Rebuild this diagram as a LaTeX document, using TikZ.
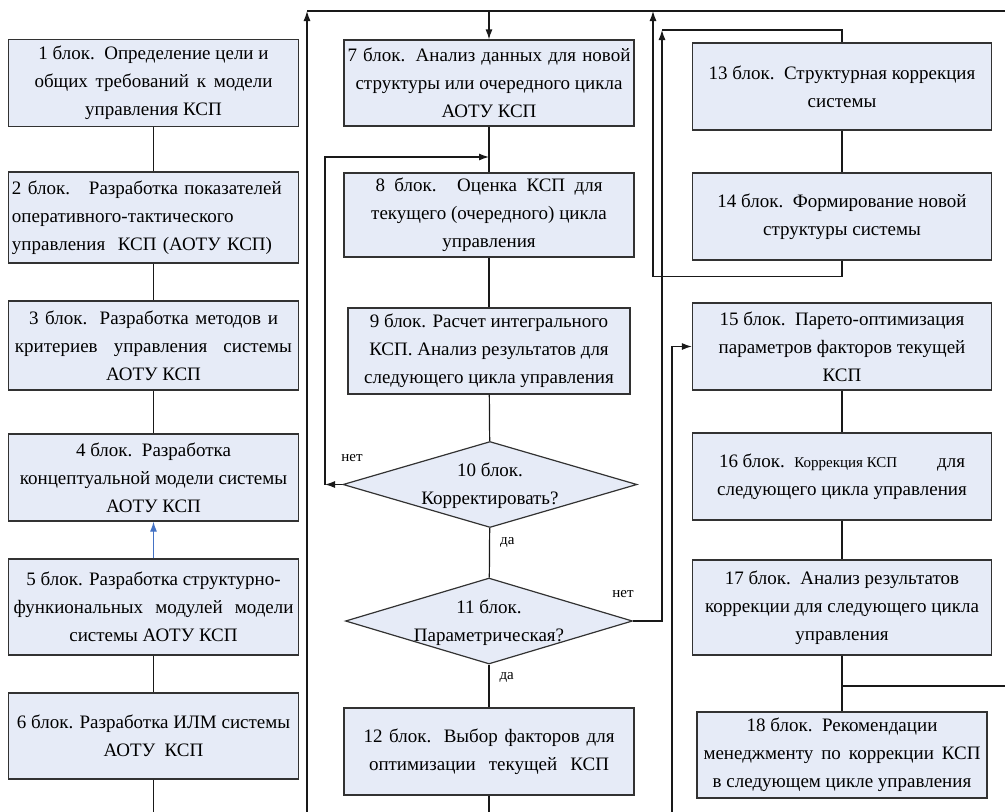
\documentclass[tikz,border=0pt]{standalone}
\usepackage{fontspec}
\setmainfont{Liberation Serif}
\newfontfamily\boxfont{Liberation Serif}
\usetikzlibrary{shapes.geometric,arrows.meta}
\definecolor{blockfill}{RGB}{230,235,247}
\definecolor{blockline}{RGB}{50,50,50}
\definecolor{upblue}{RGB}{68,114,196}
\newcommand{\jline}[2]{\makebox[#1pt][s]{#2}}
\tikzset{
  block/.style={draw=blockline, fill=blockfill, line width=1.2pt, minimum width=290pt,
    minimum height=87pt, align=center, inner sep=3pt, font=\boxfont\fontsize{19}{28}\selectfont},
  widebox/.style={minimum width=299pt},
  decision/.style={draw=blockline, fill=blockfill, line width=1.2pt, diamond,
    minimum width=294pt, minimum height=86pt, inner sep=0pt},
  dtext/.style={align=center, inner sep=0pt, font=\boxfont\fontsize{19}{28}\selectfont},
  link/.style={line width=1.2pt, draw=black!90},
  arr/.style={link, -{Latex[length=10pt,width=7pt]}},
  tag/.style={inner sep=1pt, font=\boxfont\fontsize{15}{18}\selectfont}
}
\begin{document}
\begin{tikzpicture}[x=1pt,y=-1pt]
  \useasboundingbox (0,0) rectangle (1005,812);
  % left column
  \node[block] (b1) at (153.5,83) {1 блок.\ \ Определение цели и\\ \jline{238}{общих требований к модели}\\ управления КСП};
  \node[block, minimum height=91pt, text width=283pt, align=left] (b2) at (153.5,217.5) {2 блок.\ \ \ Разработка показателей\\ оперативного-тактического\\ управления\ \ КСП (АОТУ КСП)};
  \node[block, minimum height=89pt] (b3) at (153.5,345.5) {\jline{249}{3 блок. Разработка методов и}\\ \jline{277}{критериев управления системы}\\ АОТУ КСП};
  \node[block] (b4) at (153.5,477.5) {4 блок.\ \ Разработка\\ концептуальной модели системы\\ АОТУ КСП};
  \node[block, minimum height=96pt] (b5) at (153.5,607) {5 блок. Разработка структурно-\\ \jline{280}{функиональных модулей модели}\\ системы АОТУ КСП};
  \node[block, minimum height=86pt] (b6) at (153.5,736) {6 блок. Разработка ИЛМ системы\\ АОТУ\ \ КСП};
  % middle column
  \node[block, minimum height=86pt] (b7) at (489,83) {\jline{283}{7 блок. Анализ данных для новой}\\ структуры или очередного цикла\\ АОТУ КСП};
  \node[block, minimum height=84pt] (b8) at (489,215) {\jline{227}{8 блок. Оценка КСП для}\\ текущего (очередного) цикла\\ управления};
  \node[block, minimum height=86pt, minimum width=282pt] (b9) at (489,351) {9 блок. Расчет интегрального\\ КСП. Анализ результатов для\\ следующего цикла управления};
  \node[decision] (d10) at (490,484.5) {};
  \node[dtext] (t10) at (490,486) {10 блок.\\ Корректировать?};
  \node[decision, minimum width=287pt] (d11) at (489,621) {};
  \node[dtext] (t11) at (489,623) {11 блок.\\ Параметрическая?};
  \node[block] (b12) at (489,751.5) {\jline{251}{12 блок. Выбор факторов для}\\ \jline{240}{оптимизации текущей КСП}};
  % right column
  \node[block, widebox] (b13) at (842,86.5) {13 блок.\ \ Структурная коррекция\\ системы};
  \node[block, widebox] (b14) at (842,216.5) {14 блок.\ \ Формирование новой\\ структуры системы};
  \node[block, widebox] (b15) at (842,346.5) {15 блок.\ \ Парето-оптимизация\\ параметров факторов текущей\\ КСП};
  \node[block, widebox] (b16) at (842,476.5) {\jline{246}{16 блок.\ \ {\fontsize{15}{18}\selectfont Коррекция КСП}\hfill для}\\ следующего цикла управления};
  \node[block, widebox, minimum height=95pt] (b17) at (842,607.5) {17 блок.\ \ Анализ результатов\\ коррекции для следующего цикла\\ управления};
  \node[block, minimum height=86pt] (b18) at (842,755) {18 блок.\ \ Рекомендации\\ \jline{277}{менеджменту по коррекции КСП}\\ в следующем цикле управления};
  \node[tag] (l10) at (352,458) {нет};
  \node[tag] (l11) at (623,594) {нет};
  \coordinate (e6) at (153.5,812);
  \coordinate (e12) at (489,812);
  \coordinate (e0) at (307,812);
  \coordinate (t0) at (307,11);
  \coordinate (t9) at (1005,11);
  \coordinate (t7) at (489,11);
  \coordinate (t14) at (653,11);
  \coordinate (n10) at (325,484.5);
  \coordinate (j8) at (489,157);
  \coordinate (n11) at (662,30);
  \coordinate (e15) at (672,812);
  \coordinate (j17) at (842,686);
  \coordinate (r17) at (1005,686);
  % connectors
  \draw[link] (b1) -- (b2);
  \draw[link] (b2) -- (b3);
  \draw[link] (b3) -- (b4);
  \draw[arr, upblue] (b5) -- (b4);
  \draw[link] (b5) -- (b6);
  \draw[link] (b6) -- (e6);
  \draw[arr] (e0) -- (t0);
  \draw[link] (t0) -- (t9);
  \draw[arr] (t7) -- (b7);
  \draw[link] (b7) -- (b8);
  \draw[link] (b8) -- (b9);
  \draw[link] (b9) -- (d10);
  \draw[arr] (d10.west) -- (n10);
  \draw[arr] (n10) |- (j8);
  \draw[link] (d10) -- node[tag, pos=0.3, right=9pt] (l10b) {да} (d11);
  \draw[link] (d11) -- node[tag, pos=0.3, right=9pt] (l11b) {да} (b12);
  \draw[link] (b12) -- (e12);
  \draw[arr] (d11.east) -| (n11);
  \draw[link] (n11) -| (b13);
  \draw[link] (b13) -- (b14);
  \draw[arr] (b14.south) -- ++(0,16) -| (t14);
  \draw[arr] (e15) |- (b15.west);
  \draw[link] (b15) -- (b16);
  \draw[link] (b16) -- (b17);
  \draw[link] (b17) -- (b18);
  \draw[link] (j17) -- (r17);
\end{tikzpicture}
\end{document}
